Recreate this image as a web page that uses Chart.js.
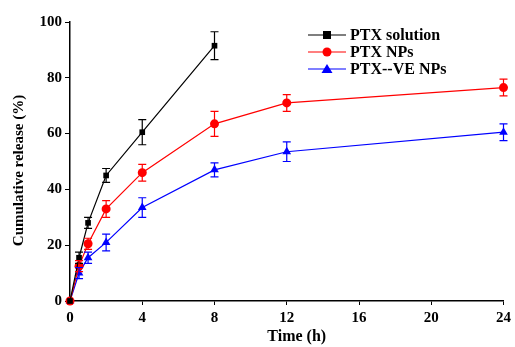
<!DOCTYPE html>
<html>
<head>
<meta charset="utf-8">
<script src="https://cdn.jsdelivr.net/npm/chart.js@4/dist/chart.umd.min.js"></script>
<style>
  html, body { margin: 0; padding: 0; background: #fff; }
  #wrap { width: 515px; height: 347px; }
</style>
</head>
<body>
<div id="wrap"><canvas id="chart"></canvas></div>
<script>
// time points (h)
const timeSolution = [0, 0.5, 1, 2, 4, 8];
const timeNPs = [0, 0.5, 1, 2, 4, 8, 12, 24];

// cumulative release (%)
const solutionValues = [0, 15.5, 28, 45, 60.5, 91.5];
const solutionErrors = [0, 2, 2, 2.5, 4.5, 5];
const npsValues = [0, 12.5, 20.5, 33, 46, 63.5, 71, 76.5];
const npsErrors = [0, 2, 2, 3, 3, 4.5, 3, 3];
const veValues = [0, 10, 15.5, 21, 33.5, 47, 53.5, 60.5];
const veErrors = [0, 2, 2, 3, 3.5, 2.5, 3.5, 3];

const xTicks = [0, 4, 8, 12, 16, 20, 24];
const yTicks = [0, 20, 40, 60, 80, 100];

const seriesNames = ["PTX solution", "PTX NPs", "PTX--VE NPs"];
const xTitle = "Time (h)";
const yTitle = "Cumulative release (%)";

const FONT = "'Liberation Serif', 'DejaVu Serif', serif";

function toPoints(xs, ys, errs) {
  return xs.map((x, i) => ({ x: x, y: ys[i], err: errs[i] }));
}

/* ========= error bars, drawn through the scales ========= */
const errorBars = {
  id: "errorBars",
  afterDatasetsDraw(chart) {
    const { ctx, scales } = chart;
    chart.data.datasets.forEach((ds) => {
      ctx.save();
      ctx.strokeStyle = ds.borderColor;
      ctx.lineWidth = 1.2;
      ds.data.forEach((p) => {
        if (!p.err) return;
        const px = scales.x.getPixelForValue(p.x);
        const top = scales.y.getPixelForValue(p.y + p.err);
        const bot = scales.y.getPixelForValue(p.y - p.err);
        ctx.beginPath();
        ctx.moveTo(px, top); ctx.lineTo(px, bot);
        ctx.moveTo(px - 4, top); ctx.lineTo(px + 4, top);
        ctx.moveTo(px - 4, bot); ctx.lineTo(px + 4, bot);
        ctx.stroke();
      });
      ctx.restore();
    });
  },
};

/* ========= legend with line + marker, axis titles ========= */
const lineLegend = {
  id: "lineLegend",
  afterDraw(chart) {
    const { ctx, chartArea } = chart;
    const x0 = chartArea.left + 238;
    let y = chartArea.top + 13;
    ctx.save();
    chart.data.datasets.forEach((ds) => {
      ctx.strokeStyle = ds.borderColor;
      ctx.lineWidth = 1.2;
      ctx.beginPath();
      ctx.moveTo(x0, y); ctx.lineTo(x0 + 38, y);
      ctx.stroke();
      ctx.fillStyle = ds.backgroundColor;
      const cx = x0 + 19;
      if (ds.pointStyle === "rect") {
        ctx.fillRect(cx - 4, y - 4, 8, 8);
      } else if (ds.pointStyle === "circle") {
        ctx.beginPath(); ctx.arc(cx, y, 4.5, 0, Math.PI * 2); ctx.fill();
      } else {
        ctx.beginPath();
        ctx.moveTo(cx, y - 5); ctx.lineTo(cx + 5.5, y + 4); ctx.lineTo(cx - 5.5, y + 4);
        ctx.closePath(); ctx.fill();
      }
      ctx.fillStyle = "#000";
      ctx.font = "bold 16px " + FONT;
      ctx.textBaseline = "middle";
      ctx.fillText(ds.label, x0 + 42, y + 1);
      y += 17;
    });

    // axis titles (offset a little from centre, as in the figure)
    ctx.fillStyle = "#000";
    ctx.font = "bold 16px " + FONT;
    ctx.textAlign = "center";
    ctx.textBaseline = "middle";
    ctx.fillText(xTitle, (chartArea.left + chartArea.right) / 2 + 10, 337);
    ctx.translate(19, (chartArea.top + chartArea.bottom) / 2 + 9);
    ctx.rotate(-Math.PI / 2);
    ctx.font = "bold 15px " + FONT;
    ctx.fillText(yTitle, 0, 0);
    ctx.restore();
  },
};

function keepTicks(list) {
  return (scale) => {
    scale.ticks = list.map((v) => ({ value: v }));
  };
}

new Chart(document.getElementById("chart"), {
  type: "line",
  data: {
    datasets: [
      {
        label: seriesNames[0],
        data: toPoints(timeSolution, solutionValues, solutionErrors),
        borderColor: "#000000",
        backgroundColor: "#000000",
        pointStyle: "rect",
        pointRadius: 4,
      },
      {
        label: seriesNames[1],
        data: toPoints(timeNPs, npsValues, npsErrors),
        borderColor: "#ff0000",
        backgroundColor: "#ff0000",
        pointStyle: "circle",
        pointRadius: 4.5,
      },
      {
        label: seriesNames[2],
        data: toPoints(timeNPs, veValues, veErrors),
        borderColor: "#0000ff",
        backgroundColor: "#0000ff",
        pointStyle: "triangle",
        pointRadius: 5,
      },
    ],
  },
  options: {
    responsive: true,
    maintainAspectRatio: false,
    animation: false,
    clip: false,
    layout: { padding: { top: 22, right: 10, left: 0, bottom: 0 } },
    elements: {
      line: { borderWidth: 1.2, tension: 0 },
      point: { borderWidth: 0 },
    },
    plugins: {
      legend: { display: false },
      tooltip: { enabled: false },
    },
    scales: {
      x: {
        type: "linear",
        min: 0,
        max: 24,
        afterBuildTicks: keepTicks(xTicks),
        afterFit: (scale) => { scale.height = 46; },
        grid: {
          display: true,
          drawOnChartArea: false,
          drawTicks: true,
          tickLength: 4,
          color: "#000",
          tickColor: "#000",
        },
        border: { color: "#000", width: 1.5 },
        ticks: {
          color: "#000",
          padding: 4,
          font: { family: FONT, size: 15, weight: "bold" },
        },
      },
      y: {
        min: 0,
        max: 100,
        afterBuildTicks: keepTicks(yTicks),
        afterFit: (scale) => { scale.width = 70; },
        grid: {
          display: true,
          drawOnChartArea: false,
          drawTicks: true,
          tickLength: 5,
          color: "#000",
          tickColor: "#000",
        },
        border: { color: "#000", width: 1.5 },
        ticks: {
          color: "#000",
          padding: 3,
          font: { family: FONT, size: 15, weight: "bold" },
        },
      },
    },
  },
  plugins: [errorBars, lineLegend],
});
</script>
</body>
</html>
